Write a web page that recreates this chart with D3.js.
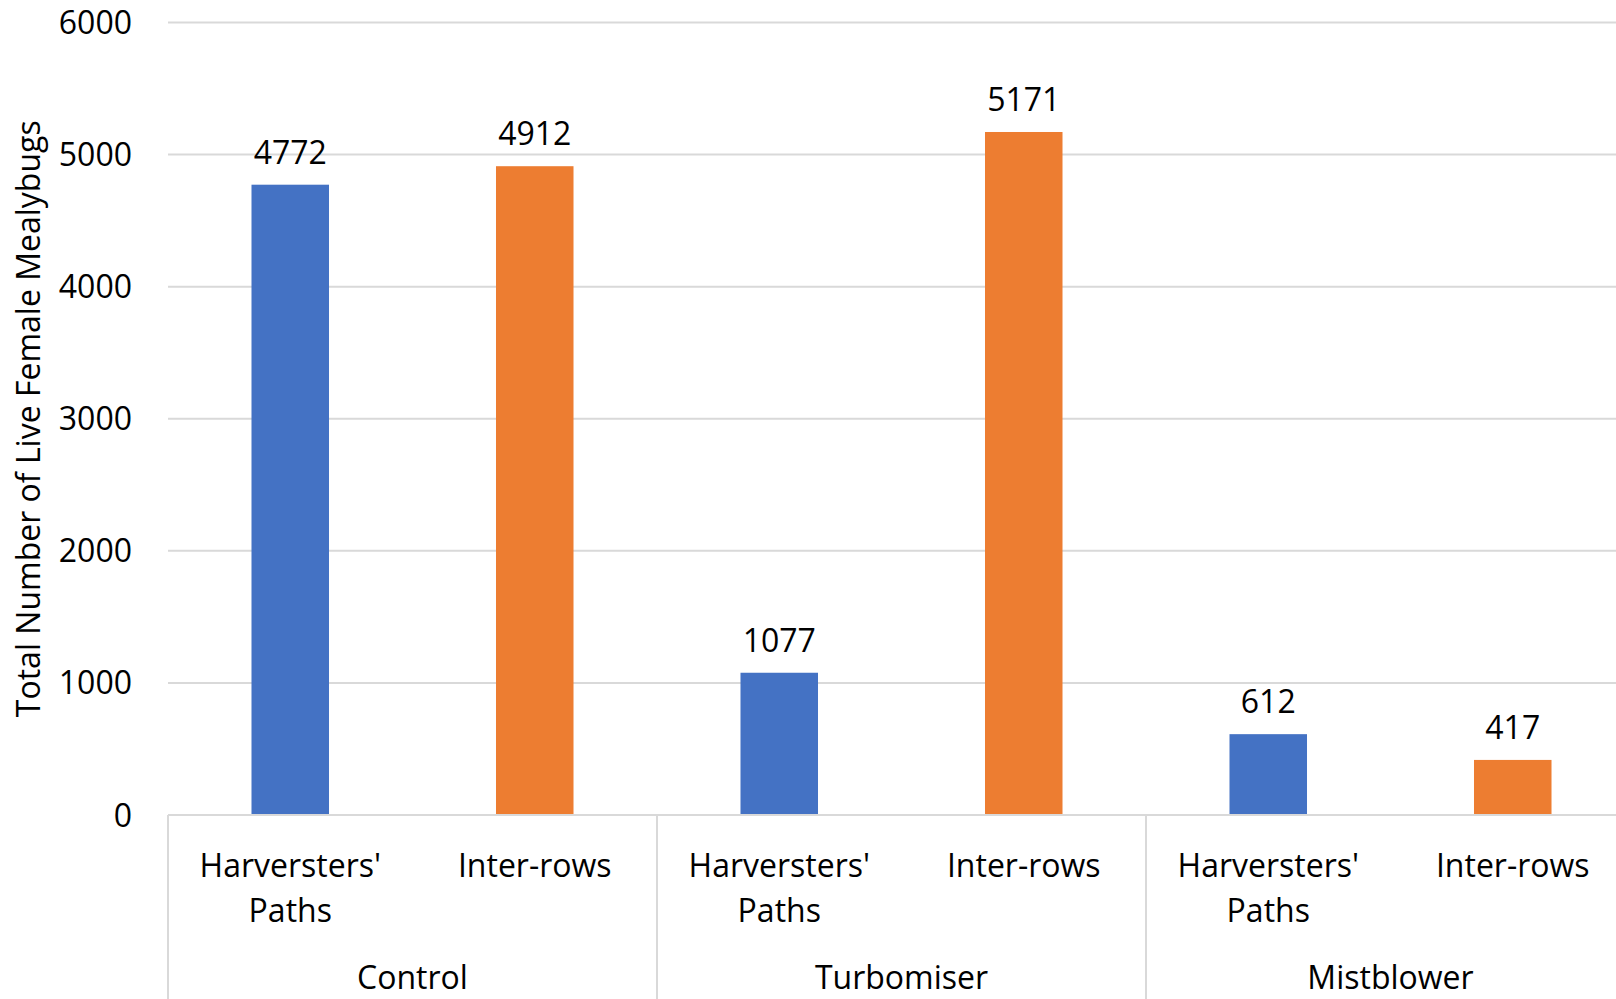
<!DOCTYPE html>
<html>
<head>
<meta charset="utf-8">
<script src="https://cdn.jsdelivr.net/npm/d3@7"></script>
<style>
  html, body { margin: 0; padding: 0; background: #fff; }
  svg { display: block; }
  text { font-family: "Open Sans", sans-serif; fill: #000; }
</style>
</head>
<body>
<svg id="chart" width="1616" height="999"></svg>
<script>
// Treatments (outer categories) and sampling locations (inner categories)
const treatments = ["Control", "Turbomiser", "Mistblower"];
const locations = ["Harversters' Paths", "Inter-rows"];
const locationLines = [["Harversters'", "Paths"], ["Inter-rows"]];
// Total live female mealybugs per treatment, by location
const harverstersPaths = [4772, 1077, 612];
const interRows = [4912, 5171, 417];
const seriesColors = ["#4472C4", "#ED7D31"];
const yTicks = [0, 1000, 2000, 3000, 4000, 5000, 6000];
const yTitle = "Total Number of Live Female Mealybugs";

const data = treatments.map((t, i) => ({
  treatment: t,
  values: [
    { location: locations[0], value: harverstersPaths[i], s: 0 },
    { location: locations[1], value: interRows[i], s: 1 }
  ]
}));

const svg = d3.select("#chart");
const plotLeft = 168, plotRight = 1635, plotTop = 22.5, plotBottom = 815;

const y = d3.scaleLinear().domain([0, 6000]).range([plotBottom, plotTop]);
const x0 = d3.scaleBand().domain(treatments).range([plotLeft, plotRight]).padding(0);
const p = 0.683;
const x1 = d3.scaleBand().domain(locations).range([0, x0.bandwidth()])
  .paddingInner(p).paddingOuter(p / 2);

// Horizontal gridlines
svg.append("g")
  .selectAll("line")
  .data(yTicks.filter(d => d > 0))
  .join("line")
  .attr("x1", plotLeft).attr("x2", 1616)
  .attr("y1", d => y(d)).attr("y2", d => y(d))
  .attr("stroke", "#d9d9d9").attr("stroke-width", 2);

// Y tick labels
svg.append("g")
  .selectAll("text")
  .data(yTicks)
  .join("text")
  .attr("x", 132)
  .attr("y", d => y(d))
  .attr("dy", "0.36em")
  .attr("text-anchor", "end")
  .attr("font-size", 32)
  .text(d => d);

// Y axis title
svg.append("text")
  .attr("transform", `translate(28,${(plotTop + plotBottom) / 2}) rotate(-90)`)
  .attr("text-anchor", "middle")
  .attr("dy", "0.36em")
  .attr("font-size", 32)
  .text(yTitle);

// Bars
const groups = svg.append("g")
  .selectAll("g")
  .data(data)
  .join("g")
  .attr("transform", d => `translate(${x0(d.treatment)},0)`);

groups.selectAll("rect")
  .data(d => d.values)
  .join("rect")
  .attr("x", d => x1(d.location))
  .attr("width", x1.bandwidth())
  .attr("y", d => y(d.value))
  .attr("height", d => y(0) - y(d.value))
  .attr("fill", d => seriesColors[d.s]);

// Value labels
groups.selectAll("text.val")
  .data(d => d.values)
  .join("text")
  .attr("class", "val")
  .attr("x", d => x1(d.location) + x1.bandwidth() / 2)
  .attr("y", d => y(d.value) - 21)
  .attr("text-anchor", "middle")
  .attr("font-size", 32)
  .text(d => d.value);

// Category axis: baseline and group dividers
svg.append("line")
  .attr("x1", plotLeft).attr("x2", 1616)
  .attr("y1", plotBottom).attr("y2", plotBottom)
  .attr("stroke", "#d9d9d9").attr("stroke-width", 2);

svg.append("g")
  .selectAll("line")
  .data(treatments)
  .join("line")
  .attr("x1", d => x0(d)).attr("x2", d => x0(d))
  .attr("y1", plotBottom).attr("y2", 999)
  .attr("stroke", "#d9d9d9").attr("stroke-width", 2);

// Inner category labels
groups.selectAll("text.loc")
  .data(() => locations.map((l, j) => ({ l, j })))
  .join("text")
  .attr("class", "loc")
  .attr("text-anchor", "middle")
  .attr("font-size", 32)
  .attr("transform", d => `translate(${x1(d.l) + x1.bandwidth() / 2},877)`)
  .each(function(d) {
    d3.select(this).selectAll("tspan")
      .data(locationLines[d.j])
      .join("tspan")
      .attr("x", 0)
      .attr("y", (t, k) => k * 45)
      .text(t => t);
  });

// Outer category labels
groups.append("text")
  .attr("x", x0.bandwidth() / 2)
  .attr("y", 989)
  .attr("text-anchor", "middle")
  .attr("font-size", 32)
  .text(d => d.treatment);
</script>
</body>
</html>
